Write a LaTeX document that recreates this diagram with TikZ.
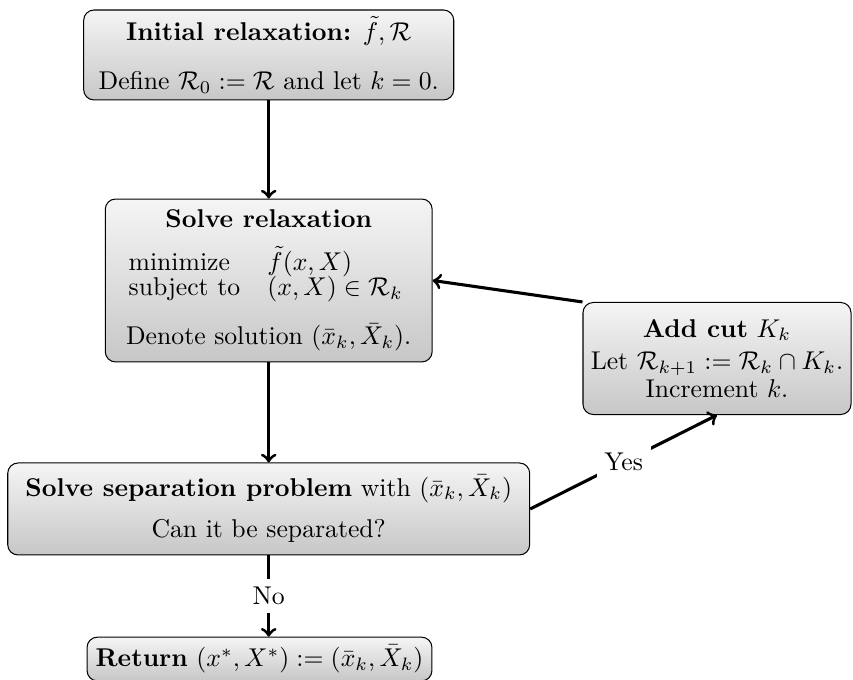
\documentclass[tikz,border=0pt]{standalone}
\usetikzlibrary{positioning}

\begin{document}
\begin{tikzpicture}[block/.style={rectangle, draw, thin, rounded corners, top color=black!4, bottom color=black!22, align=center, inner xsep=1pt, inner ysep=1.5pt}, flow/.style={->, very thick}, answer/.style={fill=white, inner sep=3pt}]

        \useasboundingbox (0, 0) rectangle (11.666, -9.3);

        \node[block, minimum width=144pt, minimum height=35pt] at (3.675, -0.752) (init)
            {\textbf{Initial relaxation:} $\tilde{f}, \mathcal{R}$ \\[7.2pt]
             Define $\mathcal{R}_0 := \mathcal{R}$ and let $k = 0$.};

        \node[block, minimum width=127.2pt, minimum height=63.4pt] at (3.675, -3.836) (solve)
            {\textbf{Solve relaxation} \\[4.6pt]
             \makebox[54pt][l]{minimize}\makebox[55pt][l]{$\tilde{f}(x, X)$} \\[-2.2pt]
             \makebox[54pt][l]{subject to}\makebox[55pt][l]{$(x, X) \in \mathcal{R}_k$} \\[7.1pt]
             Denote solution $(\bar{x}_k, \bar{X}_k)$.};

        \node[block, minimum width=104.3pt, minimum height=43.6pt] at (9.806, -4.903) (cut)
            {\textbf{Add cut} $K_k$ \\[0.8pt]
             Let $\mathcal{R}_{k+1} := \mathcal{R}_k \cap K_k$. \\[-1.2pt]
             Increment $k$.};

        \node[block, minimum width=203.1pt, minimum height=35.8pt] at (3.675, -6.961) (sep)
            {\textbf{Solve separation problem} with $(\bar{x}_k, \bar{X}_k)$ \\[4.3pt]
             Can it be separated?};

        \node[block, minimum width=134.2pt, minimum height=17pt] at (3.549, -9.013) (ret)
            {\textbf{Return} $(x^*, X^*) := (\bar{x}_k, \bar{X}_k)$};

        \draw[flow] (init) -- (solve);
        \draw[flow] (solve) -- (sep);
        \draw[flow] (sep) -- node[answer] {No} (sep.south |- ret.north);
        \draw[flow] (sep.east) -- node[answer] {Yes} (cut.south);
        \draw[flow] (cut.north west) -- (solve.east);
\end{tikzpicture}
\end{document}
